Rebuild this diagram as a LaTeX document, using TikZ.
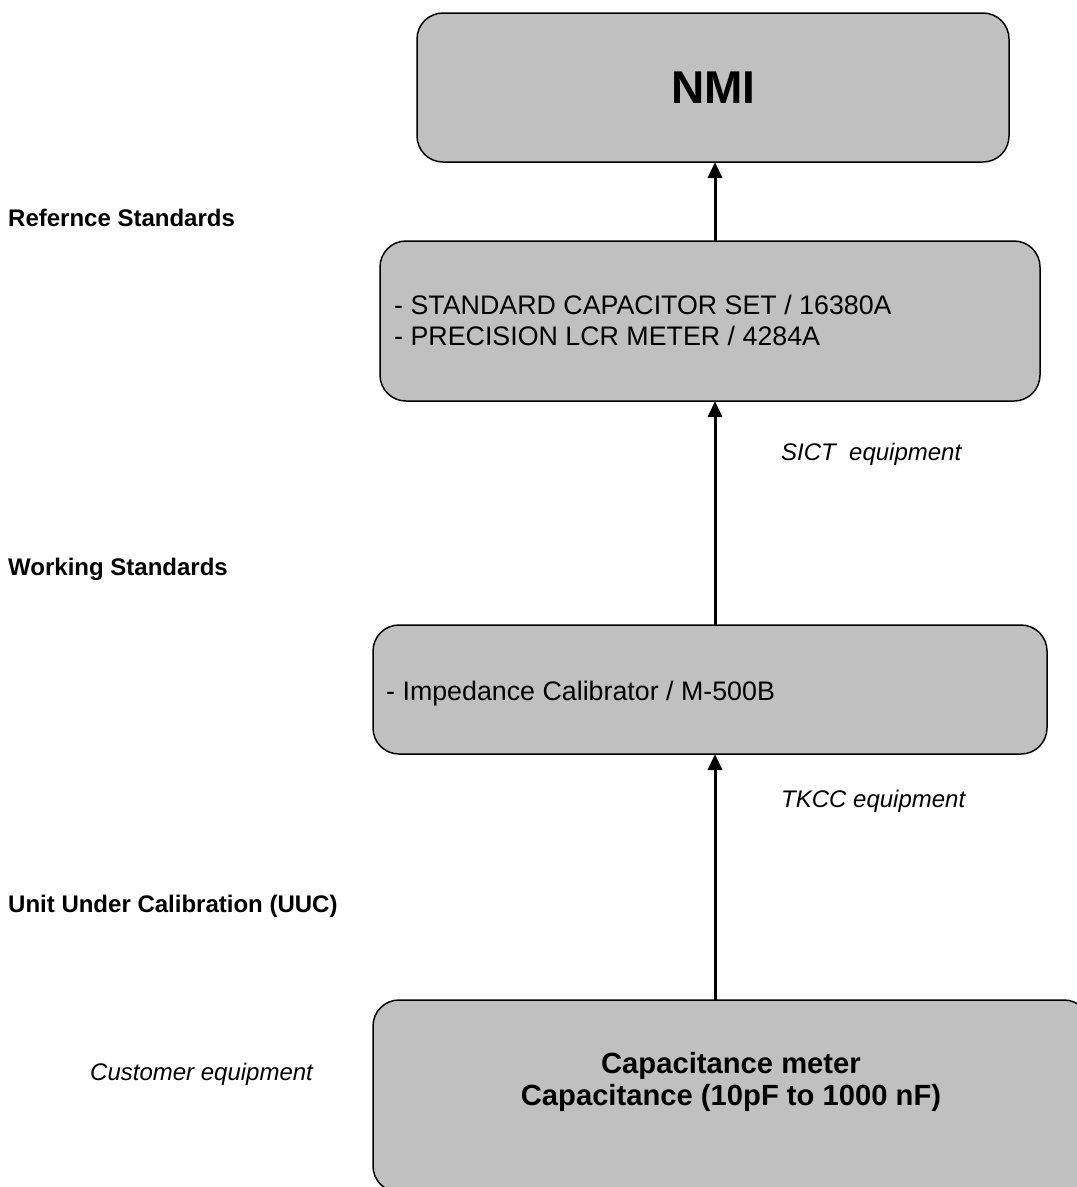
\documentclass[tikz,border=0pt]{standalone}
\usepackage{fontspec}
\setmainfont{Liberation Sans}
\usetikzlibrary{arrows.meta}
\definecolor{boxgray}{HTML}{C0C0C0}
\tikzset{
  gbox/.style={draw=black, line width=1.5pt, fill=boxgray, rounded corners=26pt},
  uparrow/.style={line width=3pt, -{Triangle[length=16pt,width=14pt]}},
  lvl/.style={anchor=base west, inner sep=0pt, font=\fontsize{24}{28}\selectfont\bfseries},
  itl/.style={anchor=base west, inner sep=0pt, font=\fontsize{24}{28}\selectfont\itshape},
  btxt/.style={anchor=base west, inner sep=0pt, font=\fontsize{26.8}{31}\selectfont, align=left},
  ctxt/.style={anchor=base, inner sep=0pt, font=\fontsize{29.2}{32}\selectfont\bfseries},
}
\begin{document}
\begin{tikzpicture}[x=1pt,y=-1pt]
\useasboundingbox (0,0) rectangle (1077,1187);
% boxes
\draw[gbox] (417,13) rectangle (1009,162);
\node[inner sep=0pt, font=\fontsize{46}{50}\selectfont\bfseries] (nmi) at (713.5,87.5) {NMI};
\coordinate (nmiS) at (715,162);

\draw[gbox] (380,241) rectangle (1040,401);
\coordinate (b2N) at (715,241);
\coordinate (b2S) at (715,401);
\node[btxt] (ref1) at (394,314) {- STANDARD CAPACITOR SET / 16380A};
\node[btxt] (ref2) at (394,345) {- PRECISION LCR METER / 4284A};

\draw[gbox] (373,625) rectangle (1047,754);
\coordinate (b3N) at (715,625);
\coordinate (b3S) at (715,754);
\node[btxt] (work1) at (386,700) {- Impedance Calibrator / M-500B};

\draw[gbox] (373,1000) rectangle (1090,1192);
\coordinate (b4N) at (715,1000);
\node[ctxt] (uuc1) at (731,1073) {Capacitance meter};
\node[ctxt] (uuc2) at (731,1105) {Capacitance (10pF to 1000 nF)};

% arrows
\draw[uparrow] (b2N) -- (nmiS);
\draw[uparrow] (b3N) -- (b2S);
\draw[uparrow] (b4N) -- (b3S);

% labels
\node[itl] (sict) at (781,460) {SICT\ \ equipment};
\node[itl] (tkcc) at (781,807) {TKCC equipment};
\node[lvl] (lref) at (8,226) {Refernce Standards};
\node[lvl] (lwork) at (8,575) {Working Standards};
\node[lvl] (luuc) at (8,912) {Unit Under Calibration (UUC)};
\node[itl] (cust) at (90,1080) {Customer equipment};
\end{tikzpicture}
\end{document}
